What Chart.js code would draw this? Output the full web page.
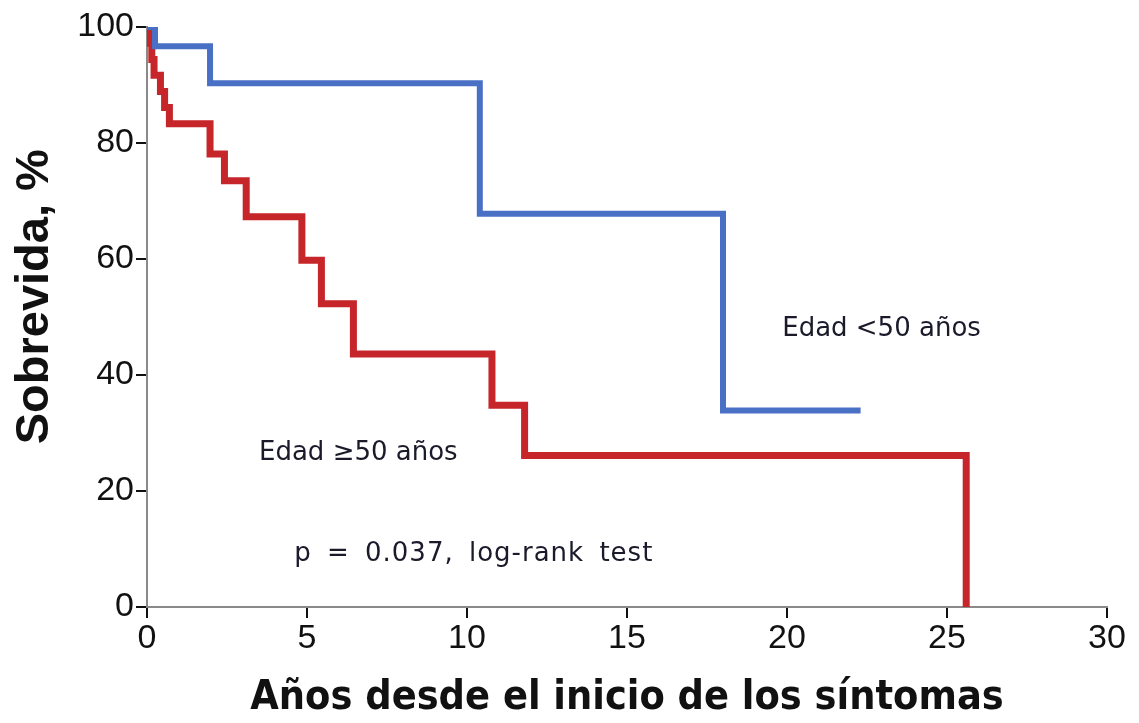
<!DOCTYPE html>
<html><head><meta charset="utf-8">
<script src="https://cdn.jsdelivr.net/npm/chart.js@4"></script>
<style>html,body{margin:0;padding:0;background:#fff}#wrap{width:1139px;height:723px}</style>
</head><body><div id="wrap"><canvas id="c" width="1139" height="723"></canvas></div>
<script>
// Kaplan-Meier survival data (años, sobrevida %)
const youngTimes = [0, 0.25, 1.97, 10.4, 18.0, 22.3];
const youngSurv  = [100, 96.7, 90.3, 67.8, 33.9, 33.9];
const oldTimes = [0, 0.08, 0.15, 0.22, 0.42, 0.55, 0.7, 1.97, 2.42, 3.1, 4.84, 5.45, 6.45, 10.78, 11.8, 25.6];
const oldSurv  = [100, 97.2, 94.4, 91.7, 88.9, 86.1, 83.3, 78.1, 73.5, 67.3, 59.8, 52.3, 43.6, 34.8, 26.1, 0];
const xTicks = [0, 5, 10, 15, 20, 25, 30];
const yTicks = [0, 20, 40, 60, 80, 100];
const yTitle = 'Sobrevida, %';
const annotations = [
  {text: 'Edad <50 años', x: 19.85, y: 46.7, spacing: 0, word: 0},
  {text: 'Edad \u226550 años', x: 3.5, y: 25.3, spacing: 0, word: 0},
  {text: 'p = 0.037, log-rank test', x: 4.6, y: 8.0, spacing: 1, word: 6}
];

const toPts = (xs, ys) => xs.map((x, i) => ({x, y: ys[i]}));

const annoPlugin = {
  id: 'anno',
  afterDatasetsDraw(chart) {
    const {ctx, scales} = chart;
    ctx.save();
    ctx.fillStyle = '#1a1a2a';
    ctx.font = '26px "DejaVu Sans", sans-serif';
    ctx.textBaseline = 'alphabetic';
    ctx.textAlign = 'left';
    annotations.forEach(a => {
      ctx.letterSpacing = a.spacing + 'px';
      ctx.wordSpacing = a.word + 'px';
      ctx.fillText(a.text, scales.x.getPixelForValue(a.x), scales.y.getPixelForValue(a.y));
    });
    ctx.letterSpacing = '0px';
    ctx.wordSpacing = '0px';
    // y axis title
    ctx.translate(35, scales.y.getPixelForValue(53.5));
    ctx.rotate(-Math.PI / 2);
    ctx.textAlign = 'center';
    ctx.textBaseline = 'middle';
    ctx.fillStyle = '#111';
    ctx.font = 'bold 47px "Liberation Sans", Arial, sans-serif';
    ctx.fillText(yTitle, 0, 0);
    ctx.restore();
  }
};

new Chart(document.getElementById('c'), {
  type: 'line',
  data: {
    datasets: [
      {label: 'Edad <50 años', data: toPts(youngTimes, youngSurv), borderColor: '#4a70c6', borderWidth: 6, stepped: true, pointRadius: 0, fill: false, borderCapStyle: 'butt', borderJoinStyle: 'miter'},
      {label: 'Edad ≥50 años', data: toPts(oldTimes, oldSurv), borderColor: '#c6252a', borderWidth: 7, stepped: true, pointRadius: 0, fill: false, borderCapStyle: 'butt', borderJoinStyle: 'miter'}
    ]
  },
  options: {
    responsive: false,
    animation: false,
    devicePixelRatio: 1,
    layout: {padding: {top: 27, right: 32, left: 0, bottom: 0}},
    plugins: {legend: {display: false}, tooltip: {enabled: false}},
    scales: {
      x: {
        type: 'linear', min: 0, max: 30,
        afterFit(s) { s.height = 116; },
        afterBuildTicks(s) { s.ticks = xTicks.map(v => ({value: v})); },
        border: {display: true, color: '#8a8a8a', width: 2},
        grid: {display: true, drawOnChartArea: false, drawTicks: true, tickLength: 11, color: '#111', lineWidth: 2},
        ticks: {color: '#111', font: {family: '"Liberation Sans", Arial, sans-serif', size: 34}, padding: 0, maxRotation: 0},
        title: {display: true, text: 'Años desde el inicio de los síntomas', color: '#111', font: {family: '"DejaVu Sans Condensed", "DejaVu Sans", sans-serif', size: 41, weight: 'bold'}, padding: {top: 6, bottom: 0}}
      },
      y: {
        type: 'linear', min: 0, max: 100,
        afterFit(s) { s.width = 147; },
        afterBuildTicks(s) { s.ticks = yTicks.map(v => ({value: v})); },
        border: {display: true, color: '#8a8a8a', width: 2},
        grid: {display: true, drawOnChartArea: false, drawTicks: true, tickLength: 11, color: '#111', lineWidth: 2},
        ticks: {color: '#111', font: {family: '"Liberation Sans", Arial, sans-serif', size: 34}, padding: 2}
      }
    }
  },
  plugins: [annoPlugin]
});
</script>
</body></html>
